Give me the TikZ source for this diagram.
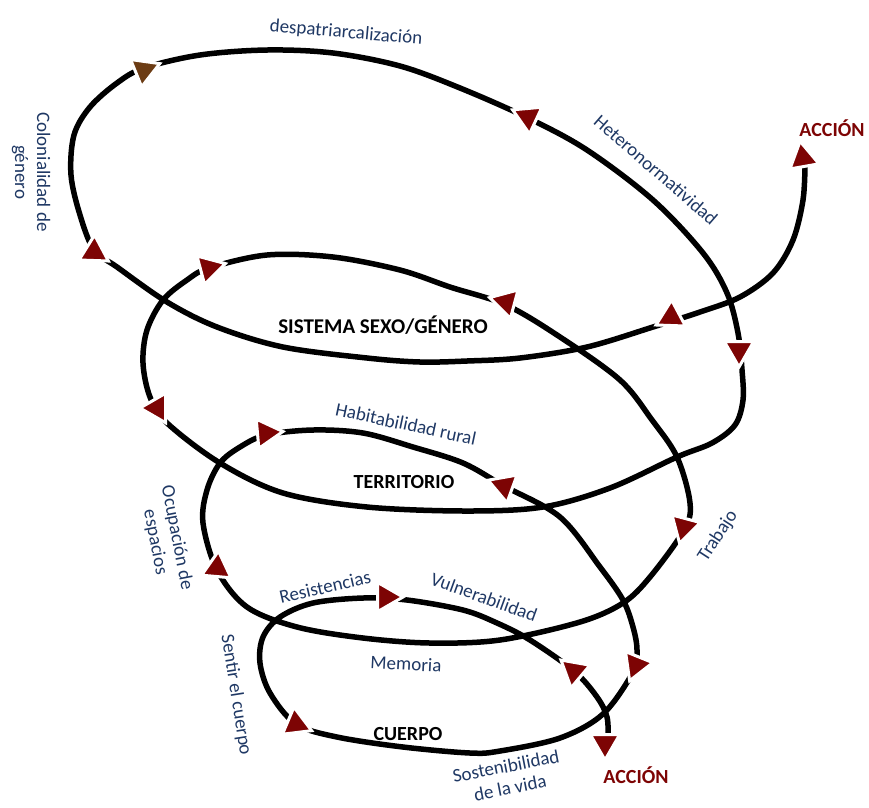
\documentclass[tikz,border=0pt]{standalone}
\usepackage{fontspec}
\setmainfont{Carlito}
\usepackage{tikz}
\usetikzlibrary{shapes.geometric}
\usetikzlibrary{positioning}
\definecolor{azul}{RGB}{31,56,100}
\definecolor{rojo}{RGB}{125,4,4}
\definecolor{cafe}{RGB}{108,60,20}

\begin{document}
\begin{tikzpicture}[x=1pt, y=-1pt,
            espiral/.style={line width=5.5pt, line cap=round, line join=round, black},
            punta/.style={regular polygon, regular polygon sides=3, minimum size=34pt, inner sep=0pt, fill=rojo, draw=white, line width=3pt},
            concepto/.style={font=\fontsize{19}{22}\selectfont, text=azul, inner sep=0pt, align=center},
            nucleo/.style={font=\fontsize{20}{22}\selectfont\bfseries, inner sep=0pt},
            accion/.style={font=\fontsize{20}{22}\selectfont\bfseries, text=rojo, inner sep=0pt}
        ]
        \useasboundingbox (0,0) rectangle (869,807);
        \draw[espiral] plot[smooth, tension=0.55] coordinates {
            (805,165) (803,200) (793,240) (773,273) (740,297) (700,312) (653,327) (587,347) (520,358) (467,361) (420,362) (367,358) (283,347) (217,327) (167,302) (117,267) (94,250) (80,215) (71,175) (74,135) (90,107) (117,83) (144,68) (200,55) (267,50) (333,53) (400,66) (460,88) (528,118) (587,150) (653,200) (703,253) (727,293) (738,333) (742,370) (743,400) (735,425) (712,443) (677,457) (610,488) (543,507) (467,511) (367,507) (283,493) (220,463) (167,423) (150,397) (143,363) (147,330) (163,300) (187,280) (209,268) (267,255) (333,257) (400,270) (450,287) (506,305) (560,337) (620,380) (652,420) (677,457) (690,503) (684,530) (650,577) (623,603) (580,622) (500,640) (430,643) (363,638) (297,627) (247,607) (217,570) (203,523) (207,490) (220,463) (240,447) (266,435) (313,430) (363,433) (413,447) (463,463) (504,486) (560,517) (600,567) (623,600) (633,627) (637,650) (633,672) (603,714) (560,738) (500,751) (470,753) (403,747) (337,737) (296,724) (270,693) (260,663) (263,637) (280,617) (313,603) (363,598) (407,600) (463,610) (497,623) (530,640) (574,671) (597,697) (607,717) (608,738)};
        \node[punta, fill=cafe, rotate=-68] (f1) at (144,70) {};
        \node[punta, rotate=-55] (f2) at (528,117) {};
        \node[punta, rotate=10] (f3) at (803,158) {};
        \node[punta, rotate=-2] (f4) at (94,252) {};
        \node[punta, rotate=-75] (f5) at (209,268) {};
        \node[punta, rotate=-45] (f6) at (506,302) {};
        \node[punta, rotate=-2] (f7) at (671,317) {};
        \node[punta, rotate=-60] (f8) at (739,350) {};
        \node[punta, rotate=-30] (f9) at (157,408) {};
        \node[punta, rotate=-85] (f10) at (266,433) {};
        \node[punta, rotate=-50] (f11) at (504,486) {};
        \node[punta, rotate=-75] (f12) at (684,527) {};
        \node[punta, rotate=-5] (f13) at (217,568) {};
        \node[punta, rotate=-90] (f14) at (386,597) {};
        \node[punta, rotate=-70] (f15) at (574,671) {};
        \node[punta, rotate=-82] (f16) at (636,665) {};
        \node[punta, rotate=7] (f17) at (296,724) {};
        \node[punta, rotate=-60] (f18) at (605,743) {};
        \node[concepto, rotate=-5] (despatriarcalizacion) at (346,33) {despatriarcalización};
        \node[concepto, rotate=-90] (colonialidad) at (31,172) {Colonialidad de\\género};
        \node[concepto, rotate=-41] (heteronormatividad) at (656,170) {Heteronormatividad};
        \node[accion] (accionarriba) at (832,128) {ACCIÓN};
        \node[nucleo, font=\fontsize{21}{22}\selectfont\bfseries] (sistema) at (383,325) {SISTEMA SEXO/GÉNERO};
        \node[concepto, rotate=-12] (habitabilidad) at (406,424) {Habitabilidad rural};
        \node[nucleo] (territorio) at (404,482) {TERRITORIO};
        \node[concepto, rotate=-79] (ocupacion) at (166,540) {Ocupación de\\espacios};
        \node[concepto, rotate=57] (trabajo) at (718,536) {Trabajo};
        \node[concepto, rotate=13] (resistencias) at (325,587) {Resistencias};
        \node[concepto, rotate=-20] (vulnerabilidad) at (484,597) {Vulnerabilidad};
        \node[concepto, rotate=-3] (memoria) at (406,664) {Memoria};
        \node[concepto, rotate=-81] (sentir) at (236,695) {Sentir el cuerpo};
        \node[nucleo] (cuerpo) at (408,734) {CUERPO};
        \node[concepto, rotate=11] (sostenibilidad) at (508,777) {Sostenibilidad\\de la vida};
        \node[accion] (accionabajo) at (636,775) {ACCIÓN};
\end{tikzpicture}
\end{document}
